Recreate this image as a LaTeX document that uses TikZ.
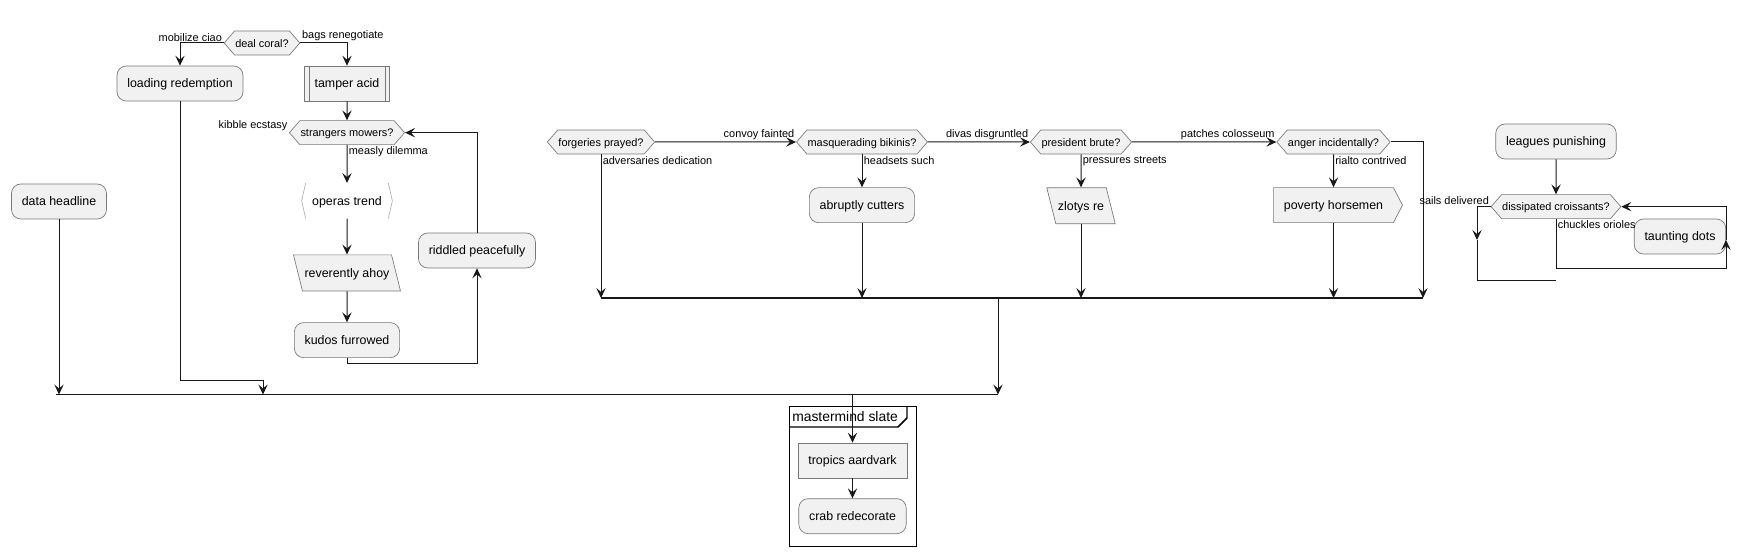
\documentclass[tikz,border=0pt]{standalone}
\usepackage{fontspec}
\setmainfont{Liberation Sans}
\usetikzlibrary{arrows.meta,positioning,shapes.geometric,shapes.symbols,calc}
\definecolor{ADfill}{RGB}{241,241,241}
\definecolor{ADedge}{RGB}{120,120,120}
\definecolor{ADline}{RGB}{24,24,24}
\definecolor{ADpale}{RGB}{175,175,175}
\newcommand\actfont{\fontsize{9.3}{11}\selectfont}
\newcommand\lblfont{\fontsize{8.2}{10}\selectfont}
\newcommand\grpfont{\fontsize{10.4}{12}\selectfont}
\tikzset{
  action/.style={rounded corners=7pt,draw=ADedge,line width=0.5pt,fill=ADfill,
                 font=\actfont,inner xsep=7.7pt,inner ysep=0pt,minimum height=26.25pt,
                 text height=1.55ex,text depth=.3ex},
  subproc/.style={action,sharp corners},
  ioput/.style={trapezium,trapezium left angle=104,trapezium right angle=76,
                draw=ADedge,line width=0.5pt,fill=ADfill,
                font=\actfont,inner xsep=1.6pt,inner ysep=8.65pt,
                text height=1.55ex,text depth=.3ex},
  sendsig/.style={signal,signal to=east,signal pointer angle=125,draw=ADedge,
                  line width=0.5pt,fill=ADfill,font=\actfont,inner xsep=7.7pt,
                  inner ysep=0pt,minimum height=26.25pt,text height=1.55ex,text depth=.3ex},
  decision/.style={signal,signal to=west and east,signal pointer angle=98,draw=ADedge,
                   line width=0.5pt,fill=ADfill,font=\lblfont,inner xsep=0.5pt,
                   inner ysep=0pt,minimum height=18pt,text height=1.5ex,text depth=.3ex},
  bare/.style={font=\actfont,inner xsep=7.7pt,inner ysep=0pt,minimum height=26.25pt,
               text height=1.55ex,text depth=.3ex},
  grp/.style={draw=black,line width=1.1pt,minimum width=95.25pt,minimum height=105pt,
              inner sep=0pt},
  fl/.style={-{Stealth[length=7.5pt,width=7pt,inset=3pt]},line width=0.75pt,draw=ADline},
  ln/.style={line width=0.75pt,draw=ADline},
  bar/.style={line width=1.4pt,draw=ADline},
  note/.style={font=\lblfont,inner sep=1pt,text=black}
}
\begin{document}
\begin{tikzpicture}[x=0.75pt,y=-0.75pt]
  \useasboundingbox (0,0) rectangle (1750,556);

  % left part
  \node[action] (datah) at (59,201.5) {data headline};
  \node[decision] (dealc) at (262,43) {deal coral?};
  \node[action] (loadr) at (180,83.5) {loading redemption};
  \node[subproc] (tamper) at (347,83.5) {tamper acid};
  \draw[ADedge,line width=0.5pt] ($(tamper.north west)+(5,0)$) -- ($(tamper.south west)+(5,0)$)
    ($(tamper.north east)+(-5,0)$) -- ($(tamper.south east)+(-5,0)$);
  \node[decision,below=14.25pt of tamper] (strang) {strangers mowers?};
  \node[note,above left=0pt of strang.west] (kibl) {kibble ecstasy};
  \node[bare,below=28.5pt of strang] (operas) {operas trend};
  \draw[ADpale,line width=0.5pt] ($(operas.north west)+(4,0)$) -- (operas.west) -- ($(operas.south west)+(4,0)$)
    ($(operas.north east)+(-4,0)$) -- (operas.east) -- ($(operas.south east)+(-4,0)$);
  \node[ioput,below=27pt of operas] (rever) {reverently ahoy};
  \node[action,below=23.25pt of rever] (kudos) {kudos furrowed};
  \node[action] (riddl) at (477,250.5) {riddled peacefully};

  % decision row
  \node[decision] (forg) at (601,142) {forgeries prayed?};
  \node[decision] (masq) at (862,142) {masquerading bikinis?};
  \node[decision] (presb) at (1081,142) {president brute?};
  \node[decision] (anger) at (1333.5,142) {anger incidentally?};
  \node[action,below=24.75pt of masq] (abrupt) {abruptly cutters};
  \node[ioput,below=24.75pt of presb] (zloty) {zlotys re};
  \node[sendsig,below=24.75pt of anger] (pover) {poverty horsemen};

  % right loop
  \node[action] (leagu) at (1556,141.5) {leagues punishing};
  \node[decision,below=26.25pt of leagu] (dissip) {dissipated croissants?};
  \node[action] (taunt) at (1680,236.5) {taunting dots};

  % group
  \node[grp,anchor=north west] (grp) at (789,406) {};
  \node[note,font=\grpfont,anchor=west,inner sep=0pt] (grpt) at ($(grp.north west)+(3,10.5)$) {mastermind slate};
  \draw[line width=1.1pt] ($(grp.north west)+(0,21)$) -- ++(109,0) -- ++(9,-9) -- ++(0,-12);
  \node[subproc] (tropic) at (852.5,460.5) {tropics aardvark};
  \node[action,below=15pt of tropic] (crab) {crab redecorate};

  \coordinate (b1L) at (56,394.5);
  \coordinate (b1b) at (263,394.5);
  \coordinate (b1M) at (852.5,394.5);
  \coordinate (b1R) at (998,394.5);
  \coordinate (b2L) at (601,298);
  \coordinate (b2M) at (998,298);
  \coordinate (b2R) at (1423,298);
  \coordinate (ljog) at (180,380);
  \coordinate (kloop) at (347,363);
  \coordinate (lla) at (1477,240);
  \coordinate (llc) at (1556,280);
  \coordinate (rlc) at (1726,268);
  \coordinate (rla) at (1726,240);

  \draw[fl] (dealc.west) -| node[pos=0,above left,note]{mobilize ciao} (loadr.north);
  \draw[fl] (dealc.east) -| node[pos=0,above right,note]{bags renegotiate} (tamper.north);
  \draw[fl] (tamper) -- (strang);
  \draw[fl] (strang) -- node[pos=0,below right,note]{measly dilemma} (operas);
  \draw[fl] (operas) -- (rever);
  \draw[fl] (rever) -- (kudos);
  \draw[fl] (kudos.south) -- (kloop) -| (riddl.south);
  \draw[fl] (riddl.north) |- (strang.east);
  \draw[fl] (loadr.south) -- (ljog) -| (b1b);
  \draw[fl] (datah.south) -- (datah.south |- b1L);
  \draw[bar] (b1L) -- (b1R);

  \draw[fl] (forg) -- node[pos=1,above left,note]{convoy fainted} (masq);
  \draw[fl] (forg.south) -- node[pos=0,below right,note]{adversaries dedication} (forg.south |- b2L);
  \draw[fl] (masq) -- node[pos=1,above left,note]{divas disgruntled} (presb);
  \draw[fl] (masq) -- node[pos=0,below right,note]{headsets such} (abrupt);
  \draw[fl] (abrupt.south) -- (abrupt.south |- b2L);
  \draw[fl] (presb) -- node[pos=1,above left,note]{patches colosseum} (anger);
  \draw[fl] (presb) -- node[pos=0,below right,note]{pressures streets} (zloty);
  \draw[fl] (zloty.south) -- (zloty.south |- b2L);
  \draw[fl] (anger) -- node[pos=0,below right,note]{rialto contrived} (pover);
  \draw[fl] (pover.south) -- (pover.south |- b2L);
  \draw[fl] (anger.east) -| (b2R);
  \draw[bar] (b2L) -- (b2R);
  \draw[fl] (b2M) -- (b1R);

  \draw[fl] (leagu) -- (dissip);
  \draw[fl] (dissip.west) -| node[pos=0,above left,note]{sails delivered} (lla);
  \draw[ln] (lla) |- (llc);
  \draw[fl] (dissip.south) |- node[pos=0,below right,note]{chuckles orioles} (rlc) -- (rla);
  \draw[fl] (rla) |- (dissip.east);

  \draw[fl] (b1M) -- (tropic);
  \draw[fl] (tropic) -- (crab);
\end{tikzpicture}
\end{document}
